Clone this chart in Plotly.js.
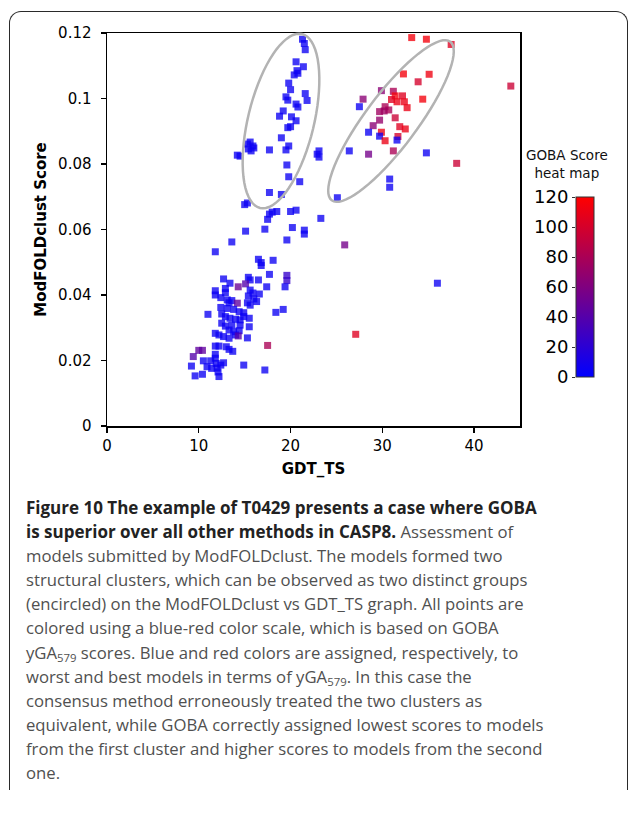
<!DOCTYPE html>
<html><head><meta charset="utf-8">
<script src="https://cdn.plot.ly/plotly-3.0.1.min.js"></script>
<style>
html,body{margin:0;padding:0;background:#fff;width:629px;height:817px;overflow:hidden;}
#frame{position:absolute;left:9px;top:11px;width:617px;height:778px;border:1.6px solid #2a2a2a;border-bottom:none;border-radius:12px 12px 0 0;}
#chart{position:absolute;left:0;top:0;width:629px;height:490px;}
#caption{position:absolute;left:26px;top:496px;font-family:"Open Sans",sans-serif;font-size:16.7px;line-height:24.1px;color:#505050;white-space:nowrap;}
#caption b{color:#222;font-size:17px;}
#caption sub{font-size:0.68em;line-height:0;vertical-align:-0.25em;}
</style></head>
<body>
<div id="frame"></div>
<div id="chart"></div>
<div id="caption">
<b>Figure 10 The example of T0429 presents a case where GOBA</b><br>
<b>is superior over all other methods in CASP8.</b> Assessment of<br>
models submitted by ModFOLDclust. The models formed two<br>
structural clusters, which can be observed as two distinct groups<br>
(encircled) on the ModFOLDclust vs GDT_TS graph. All points are<br>
colored using a blue-red color scale, which is based on GOBA<br>
yGA<sub>579</sub> scores. Blue and red colors are assigned, respectively, to<br>
worst and best models in terms of yGA<sub>579</sub>. In this case the<br>
consensus method erroneously treated the two clusters as<br>
equivalent, while GOBA correctly assigned lowest scores to models<br>
from the first cluster and higher scores to models from the second<br>
one.
</div>
<script>
// GDT_TS (x), ModFOLDclust score (y), GOBA score (colour)
const gdt = [
21.3,21.5,21.6,20.6,21.4,20.7,20.4,20.8,19.8,20.0,19.5,19.7,21.6,21.8,20.6,20.8,19.2,18.8,20.1,20.6,
20.0,19.7,19.0,19.8,19.5,17.7,15.3,15.6,15.9,15.4,15.7,16.0,14.2,14.5,23.1,23.1,22.9,19.6,19.8,21.0,
17.7,19.0,15.0,15.3,17.7,18.0,18.5,17.5,20.0,20.6,23.3,15.1,17.2,20.2,21.5,21.5,19.6,13.6,11.8,25.1,
26.4,28.5,31.2,34.8,38.1,30.8,30.8,25.9,36.0,27.1,
33.2,34.8,37.5,32.3,35.1,33.9,44.0,29.9,31.2,27.9,31.4,31.0,31.6,32.2,32.4,32.7,34.4,27.5,30.3,30.7,
30.2,29.7,31.4,29.7,29.0,31.9,32.5,28.5,29.9,29.7,31.7,31.6,30.3,
16.5,16.8,16.8,18.1,17.7,19.6,19.6,19.4,15.4,15.6,16.5,12.7,13.4,14.3,15.1,17.4,11.8,11.8,12.9,12.9,
12.4,15.6,15.9,16.6,15.4,16.0,16.3,15.3,15.6,13.1,13.6,13.3,14.2,12.4,11.0,13.1,13.8,14.4,14.9,15.5,
18.4,19.2,12.5,12.9,13.4,14.0,14.5,14.9,12.5,12.9,13.6,14.5,13.3,13.8,15.5,11.8,12.2,12.7,13.3,14.0,
14.4,14.3,15.3,11.8,12.2,13.0,13.3,13.7,10.0,10.4,9.4,17.5,11.8,11.8,10.5,12.7,11.3,11.9,10.9,11.4,
12.0,12.4,14.9,9.2,17.2,9.6,10.4,12.2,12.1
];
const modfoldclust = [
0.1181,0.1168,0.1149,0.1112,0.1097,0.1085,0.1072,0.1077,0.1047,0.1027,0.1005,0.0995,0.1015,0.0994,0.0983,0.0974,0.0962,0.0946,0.0944,0.0932,
0.0914,0.0911,0.0880,0.0855,0.0843,0.0843,0.0861,0.0867,0.0855,0.0846,0.0840,0.0849,0.0827,0.0824,0.0840,0.0821,0.0830,0.0797,0.0761,0.0746,
0.0713,0.0707,0.0676,0.0681,0.0647,0.0653,0.0655,0.0631,0.0655,0.0659,0.0634,0.0595,0.0601,0.0606,0.0598,0.0586,0.0568,0.0562,0.0532,0.0697,
0.0840,0.0830,0.0840,0.0834,0.0802,0.0754,0.0729,0.0553,0.0436,0.0280,
0.1186,0.1181,0.1165,0.1075,0.1074,0.1051,0.1038,0.1024,0.1022,0.0998,0.1008,0.0997,0.0990,0.1008,0.0990,0.0972,0.0998,0.0975,0.0975,0.0965,
0.0962,0.0960,0.0941,0.0934,0.0917,0.0914,0.0907,0.0897,0.0897,0.0885,0.0884,0.0873,0.0871,
0.0509,0.0499,0.0490,0.0506,0.0463,0.0460,0.0444,0.0425,0.0454,0.0446,0.0446,0.0449,0.0436,0.0425,0.0434,0.0425,0.0413,0.0400,0.0420,0.0407,
0.0392,0.0415,0.0406,0.0403,0.0397,0.0388,0.0380,0.0376,0.0369,0.0385,0.0383,0.0376,0.0375,0.0362,0.0341,0.0359,0.0356,0.0349,0.0346,0.0329,
0.0347,0.0356,0.0342,0.0334,0.0329,0.0326,0.0324,0.0334,0.0314,0.0305,0.0308,0.0308,0.0293,0.0288,0.0303,0.0283,0.0278,0.0273,0.0268,0.0278,
0.0291,0.0275,0.0269,0.0244,0.0244,0.0242,0.0234,0.0228,0.0231,0.0231,0.0212,0.0246,0.0219,0.0207,0.0199,0.0193,0.0199,0.0191,0.0181,0.0176,
0.0177,0.0186,0.0186,0.0183,0.0171,0.0153,0.0158,0.0151,0.0165
];
const goba = [
5,5,5,5,5,5,5,5,5,5,5,5,5,5,5,5,5,5,5,5,
5,5,5,5,5,5,5,5,5,5,5,5,5,5,5,5,5,5,5,5,
5,5,5,5,5,5,5,5,5,5,5,5,5,5,5,5,5,5,5,5,
5,55,80,5,95,5,5,55,5,105,
115,115,105,115,112,100,95,65,80,65,115,105,110,105,110,110,115,5,80,80,
75,75,95,70,65,105,110,5,110,5,100,5,110,
5,5,5,5,5,25,25,5,5,5,5,5,5,50,40,5,5,5,5,5,
5,5,5,5,5,5,5,5,5,5,5,5,45,5,5,5,5,5,5,5,
5,5,5,5,5,5,5,5,5,5,5,5,5,5,5,5,5,5,5,5,
5,40,5,5,5,5,5,5,45,45,40,80,5,5,5,5,5,5,5,5,
5,5,5,5,5,5,5,5,5
];
const xTickVals = [0,10,20,30,40];
const yTickVals = [0,0.02,0.04,0.06,0.08,0.1,0.12];
const cbTickVals = [0,20,40,60,80,100,120];

const W = 629, H = 490;
// encircling ellipses (pixel centre, semi-axes, major-axis direction)
const ellipses = [
  {cx:281, cy:121, a:89.5, b:33, ux:21, uy:-87},
  {cx:391, cy:121, a:99, b:26, ux:59, uy:-79}
];
function ellipsePath(e){
  const n = Math.hypot(e.ux,e.uy), ux=e.ux/n, uy=e.uy/n, vx=-uy, vy=ux;
  let d='';
  for(let i=0;i<=72;i++){
    const t=i/72*2*Math.PI, c=Math.cos(t), s=Math.sin(t);
    const px=e.cx+e.a*c*ux+e.b*s*vx, py=e.cy+e.a*c*uy+e.b*s*vy;
    d+=(i?'L':'M')+(px/W).toFixed(5)+','+(1-py/H).toFixed(5);
  }
  return d+'Z';
}

const traces = [
  {type:'scatter', mode:'markers', x:gdt, y:modfoldclust, xaxis:'x', yaxis:'y',
   cliponaxis:false, hoverinfo:'skip', showlegend:false,
   marker:{symbol:'square', size:7, color:goba, cmin:0, cmax:120, opacity:0.78,
     colorscale:[[0,'#0000ff'],[1,'#ff0000']], line:{width:0}, showscale:true,
     colorbar:{x:576/W, xanchor:'left', xpad:0, ypad:0, thickness:18, thicknessmode:'pixels',
       len:180, lenmode:'pixels', y:1-197/H, yanchor:'top', outlinewidth:1, outlinecolor:'#333',
       showticklabels:false, ticks:''}}},
  {type:'scatter', mode:'markers', x:[0], y:[cbTickVals[0]], xaxis:'x2', yaxis:'y2',
   marker:{opacity:0}, hoverinfo:'skip', showlegend:false}
];

const layout = {
  width:W, height:H, margin:{l:0,r:0,t:0,b:0},
  paper_bgcolor:'rgba(0,0,0,0)', plot_bgcolor:'rgba(0,0,0,0)', showlegend:false,
  font:{family:'DejaVu Sans', color:'#000'},
  xaxis:{domain:[107/W,520/W], range:[0,45], tickvals:xTickVals, ticks:'outside', ticklen:5, tickwidth:1.3,
    tickcolor:'#000', showline:true, linecolor:'#000', linewidth:1.5, mirror:true, showgrid:false, zeroline:false,
    tickfont:{size:15}, title:{text:'<b>GDT_TS</b>', font:{size:15}, standoff:10}, anchor:'y'},
  yaxis:{domain:[1-426/H,1-33/H], range:[0,0.12], tickvals:yTickVals, ticks:'outside', ticklen:5, tickwidth:1.3,
    tickcolor:'#000', showline:true, linecolor:'#000', linewidth:1.5, mirror:true, showgrid:false, zeroline:false,
    ticklabelstandoff:6,
    tickfont:{size:15}, title:{text:'<b>ModFOLDclust Score</b>', font:{size:15}, standoff:8}, anchor:'x'},
  xaxis2:{domain:[576/W,594/W], range:[0,1], visible:false, anchor:'y2'},
  yaxis2:{domain:[1-377/H,1-197/H], range:[0,120], tickvals:cbTickVals, side:'left', ticks:'outside', ticklen:3,
    tickcolor:'#333', showline:false, showgrid:false, zeroline:false, tickfont:{size:18}, anchor:'x2'},
  shapes: ellipses.map(e=>({type:'path', xref:'paper', yref:'paper', path:ellipsePath(e),
    line:{color:'#b3b3b3', width:2.5}, fillcolor:'rgba(0,0,0,0)'})),
  annotations:[{text:'GOBA Score<br>heat map', xref:'paper', yref:'paper', x:567/W, y:1-164/H,
    xanchor:'center', yanchor:'middle',
    showarrow:false, font:{size:13.5, color:'#111'}, align:'center'}]
};
Plotly.newPlot('chart', traces, layout, {staticPlot:true, displayModeBar:false});
</script>
</body></html>
